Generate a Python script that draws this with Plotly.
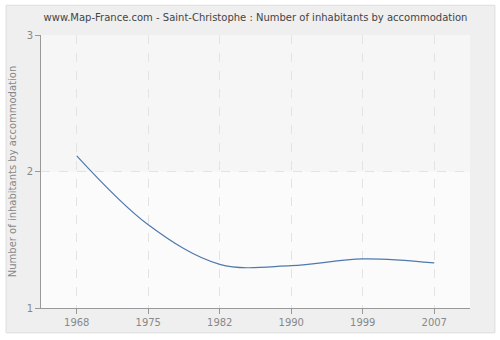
import plotly.graph_objects as go

years = ["1968", "1975", "1982", "1990", "1999", "2007"]
values = [2.115, 1.61, 1.32, 1.31, 1.36, 1.33]

fig = go.Figure()
fig.add_trace(go.Scatter(
    x=years, y=values, mode="lines",
    line=dict(color="#4f79ad", width=1.2, shape="spline", smoothing=1.0),
    hoverinfo="x+y", showlegend=False,
))

# outer rounded panel
fig.add_shape(type="rect", xref="paper", yref="paper",
              x0=-0.0814, x1=1.058, y0=-0.0909, y1=1.109,
              fillcolor="#efefef", line=dict(color="#dcdcdc", width=1), layer="below")
# plot background halves
fig.add_shape(type="rect", xref="paper", yref="y", x0=0, x1=1, y0=2, y1=3,
              fillcolor="#f6f6f6", line=dict(width=0), layer="below")
fig.add_shape(type="rect", xref="paper", yref="y", x0=0, x1=1, y0=1, y1=2,
              fillcolor="#fbfbfb", line=dict(width=0), layer="below")

fig.update_layout(
    width=500, height=340,
    margin=dict(l=40, r=30, t=35, b=30),
    paper_bgcolor="white",
    plot_bgcolor="rgba(0,0,0,0)",
    font=dict(family="DejaVu Sans", size=10, color="#888888"),
    title=dict(text="www.Map-France.com - Saint-Christophe : Number of inhabitants by accommodation",
               x=0.5, xref="paper", xanchor="center", y=0.95, yanchor="middle",
               font=dict(family="DejaVu Sans", size=10, color="#444444")),
    xaxis=dict(type="category", range=[-0.5, 5.5], showline=True, linecolor="#999999",
               ticks="outside", ticklen=5, tickcolor="#999999",
               showgrid=True, gridcolor="#e3e3e3", griddash="dash", zeroline=False,
               tickfont=dict(color="#888888", size=10)),
    yaxis=dict(range=[1, 3], tickvals=[1, 2, 3], showline=True, linecolor="#999999",
               ticks="outside", ticklen=5, tickcolor="#999999",
               showgrid=True, gridcolor="#e3e3e3", griddash="dash", zeroline=False,
               title=dict(text="Number of inhabitants by accommodation",
                          font=dict(color="#888888", size=10), standoff=8),
               tickfont=dict(color="#888888", size=10)),
)

fig.write_html("out.html")
